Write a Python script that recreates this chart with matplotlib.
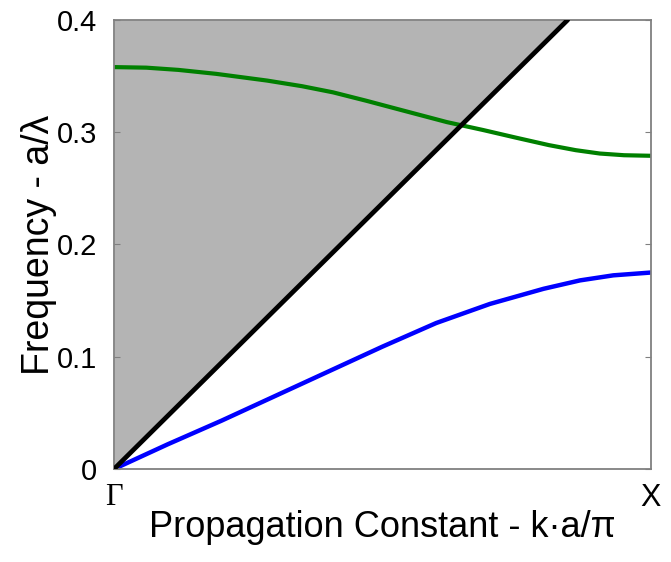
import matplotlib
matplotlib.use('Agg')
import matplotlib.pyplot as plt

# band data (k in units of pi/a, frequency a/lambda)
k_green = [0.0, 0.06, 0.12, 0.19, 0.285, 0.35, 0.408, 0.47, 0.533, 0.62, 0.687, 0.75, 0.81, 0.86, 0.905, 0.95, 1.0]
f_green = [0.358, 0.3575, 0.3555, 0.352, 0.346, 0.341, 0.3355, 0.328, 0.320, 0.309, 0.302, 0.295, 0.2885, 0.284, 0.281, 0.2795, 0.279]

k_blue = [0.0, 0.05, 0.1, 0.2, 0.3, 0.4, 0.5, 0.6, 0.7, 0.8, 0.868, 0.93, 1.0]
f_blue = [0.0, 0.011, 0.022, 0.043, 0.065, 0.087, 0.109, 0.130, 0.147, 0.1605, 0.168, 0.1725, 0.175]

# light line
k_light = [0.0, 0.845]
f_light = [0.0, 0.4]

yticks = [0, 0.1, 0.2, 0.3, 0.4]
ytick_labels = ['0', '0.1', '0.2', '0.3', '0.4']

plt.rcParams['font.family'] = ['Liberation Sans', 'DejaVu Sans']

fig = plt.figure(figsize=(6.71, 5.62), dpi=100)
ax = fig.add_axes([0.170, 0.1655, 0.800, 0.799])

# light cone shading above the light line
ax.fill_between(k_light, f_light, [0.4, 0.4], color='#b4b4b4', linewidth=0, zorder=1)
ax.plot(k_light, f_light, color='black', linewidth=3.4, solid_capstyle='round', zorder=3)
ax.plot(k_green, f_green, color='#008000', linewidth=3.0, zorder=2)
ax.plot(k_blue, f_blue, color='#0000ff', linewidth=3.2, zorder=2)

ax.set_xlim(0, 1)
ax.set_ylim(0, 0.4)

ax.set_yticks(yticks)
ax.set_yticklabels(ytick_labels, fontsize=21)
ax.set_xticks([0, 1])
ax.set_xticklabels(['Γ', 'X'], fontsize=22)
ax.get_xticklabels()[0].set_family(['Liberation Serif', 'DejaVu Serif'])

ax.tick_params(axis='y', direction='in', length=4, width=0.8, color='#808080',
               right=True, pad=12)
ax.tick_params(axis='x', direction='in', length=0, pad=10)

for s in ax.spines.values():
    s.set_color('#808080')
    s.set_linewidth(1.3)

ax.set_xlabel('Propagation Constant - k·a/π', fontsize=26, labelpad=-2)
ax.set_ylabel('Frequency - a/λ', fontsize=27, labelpad=0)

fig.savefig('out.png', dpi=100)
